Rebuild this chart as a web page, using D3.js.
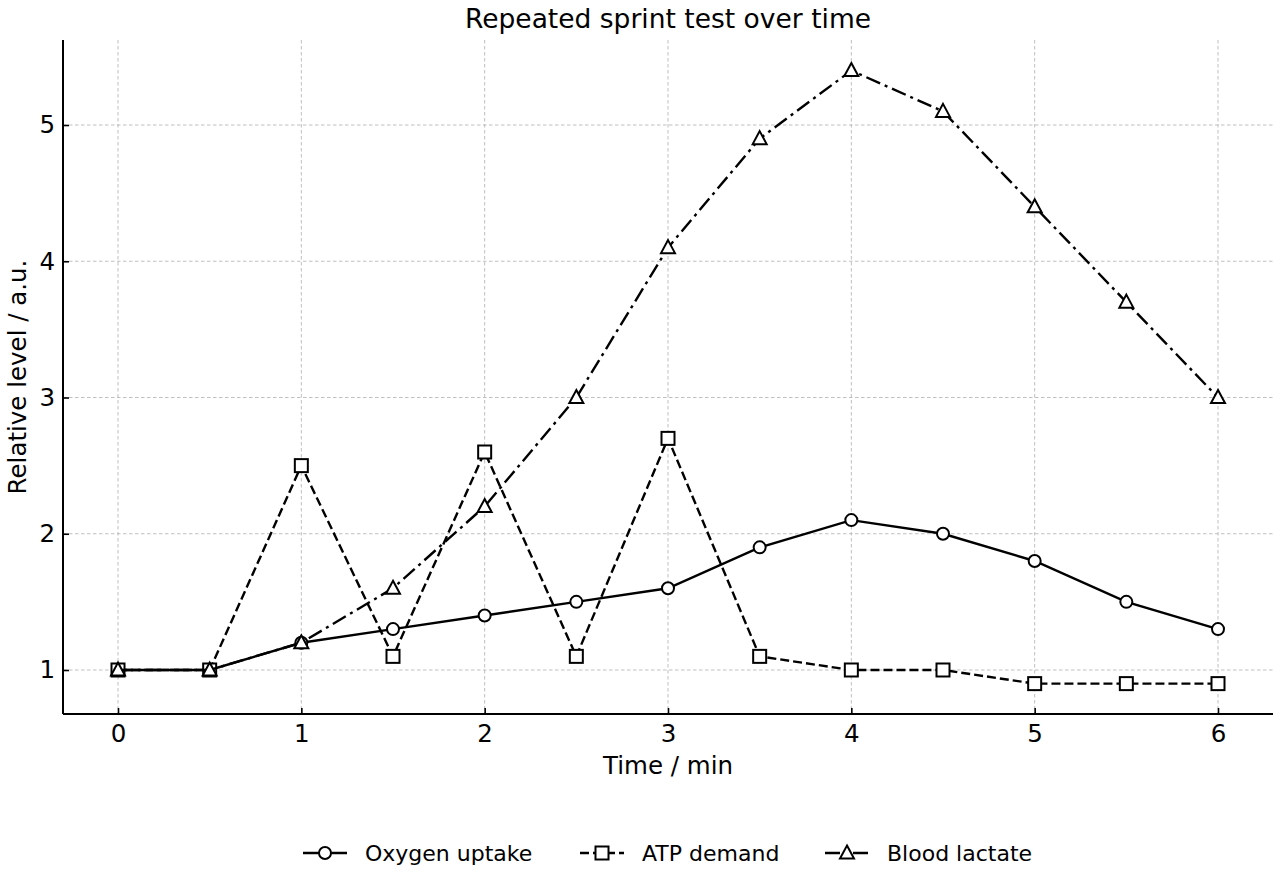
<!DOCTYPE html>
<html>
<head>
<meta charset="utf-8">
<script src="https://cdn.jsdelivr.net/npm/d3@7"></script>
<style>
  html, body { margin: 0; padding: 0; background: #fff; overflow: hidden; }
  svg { display: block; font-family: "DejaVu Sans", sans-serif; }
</style>
</head>
<body>
<svg width="1280" height="880"></svg>
<script>
const times = [0, 0.5, 1, 1.5, 2, 2.5, 3, 3.5, 4, 4.5, 5, 5.5, 6]
const oxygen = [1.0, 1.0, 1.2, 1.3, 1.4, 1.5, 1.6, 1.9, 2.1, 2.0, 1.8, 1.5, 1.3]
const atp = [1.0, 1.0, 2.5, 1.1, 2.6, 1.1, 2.7, 1.1, 1.0, 1.0, 0.9, 0.9, 0.9]
const lactate = [1.0, 1.0, 1.2, 1.6, 2.2, 3.0, 4.1, 4.9, 5.4, 5.1, 4.4, 3.7, 3.0]
const xTicks = [0, 1, 2, 3, 4, 5, 6]
const yTicks = [1, 2, 3, 4, 5]

const series = [
  { name: 'Oxygen uptake', values: oxygen, dash: null, marker: 'circle' },
  { name: 'ATP demand', values: atp, dash: '9,4', marker: 'square' },
  { name: 'Blood lactate', values: lactate, dash: '15,5,3,5', marker: 'triangle' }
]

const width = 1280, height = 880
const margin = { top: 40, right: 7, bottom: 166, left: 63 }
const innerWidth = width - margin.left - margin.right
const innerHeight = height - margin.top - margin.bottom
const tickFont = 24.5

const svg = d3.select('svg')
const g = svg.append('g').attr('transform', `translate(${margin.left},${margin.top})`)

const xScale = d3.scaleLinear().domain([-0.3, 6.3]).range([0, innerWidth])
const yScale = d3.scaleLinear().domain([0.677, 5.624]).range([innerHeight, 0])

// grid
g.append('g').selectAll('line').data(xTicks).enter().append('line')
  .attr('x1', d => xScale(d)).attr('x2', d => xScale(d))
  .attr('y1', 0).attr('y2', innerHeight)
  .attr('stroke', '#b8b8b8').attr('stroke-width', 0.9).attr('stroke-dasharray', '3.5,2.5')
g.append('g').selectAll('line').data(yTicks).enter().append('line')
  .attr('y1', d => yScale(d)).attr('y2', d => yScale(d))
  .attr('x1', 0).attr('x2', innerWidth)
  .attr('stroke', '#b8b8b8').attr('stroke-width', 0.9).attr('stroke-dasharray', '3.5,2.5')

// axes (ticks pointing inward)
const xAxis = d3.axisBottom(xScale).tickValues(xTicks).tickSize(-6).tickPadding(11).tickFormat(d3.format('d'))
const yAxis = d3.axisLeft(yScale).tickValues(yTicks).tickSize(-6).tickPadding(8).tickFormat(d3.format('d'))

const xAxisG = g.append('g').attr('transform', `translate(0,${innerHeight})`).call(xAxis)
const yAxisG = g.append('g').call(yAxis)
;[xAxisG, yAxisG].forEach(a => {
  a.attr('font-size', tickFont).attr('font-family', '"DejaVu Sans", sans-serif').attr('fill', '#000')
  a.selectAll('.domain').remove()
  a.selectAll('.tick line').attr('stroke', '#000').attr('stroke-width', 1.6)
  a.selectAll('.tick text').attr('fill', '#000')
})

// spines
g.append('line').attr('x1', 0).attr('x2', innerWidth).attr('y1', innerHeight).attr('y2', innerHeight)
  .attr('stroke', '#000').attr('stroke-width', 2)
g.append('line').attr('x1', 0).attr('x2', 0).attr('y1', 0).attr('y2', innerHeight)
  .attr('stroke', '#000').attr('stroke-width', 2)

// labels
g.append('text').text('Time / min')
  .attr('x', innerWidth / 2).attr('y', innerHeight + 60)
  .attr('text-anchor', 'middle').attr('font-size', 24.5)
g.append('text').text('Relative level / a.u.')
  .attr('transform', `translate(-37,${innerHeight / 2}) rotate(-90)`)
  .attr('text-anchor', 'middle').attr('font-size', 24.5)
svg.append('text').text('Repeated sprint test over time')
  .attr('x', margin.left + innerWidth / 2).attr('y', 28)
  .attr('text-anchor', 'middle').attr('font-size', 26.5)

function drawMarker(sel, type) {
  if (type === 'circle') {
    sel.append('circle').attr('r', 6)
  } else if (type === 'square') {
    sel.append('rect').attr('x', -6.5).attr('y', -6.5).attr('width', 13).attr('height', 13)
  } else {
    sel.append('path').attr('d', 'M0,-7.5 L7,5.5 L-7,5.5 Z')
  }
  sel.selectAll('*').attr('fill', '#fff').attr('stroke', '#000').attr('stroke-width', 2)
}

const line = d3.line().x((d, i) => xScale(times[i])).y(d => yScale(d))

series.forEach(s => {
  g.append('path').datum(s.values)
    .attr('d', line)
    .attr('fill', 'none').attr('stroke', '#000').attr('stroke-width', 2.4)
    .attr('stroke-dasharray', s.dash)
  g.append('g').selectAll('g').data(s.values).enter().append('g')
    .attr('transform', (d, i) => `translate(${xScale(times[i])},${yScale(d)})`)
    .each(function() { drawMarker(d3.select(this), s.marker) })
})

// legend
const legendX = [303, 580, 825]
const legendY = 853
series.forEach((s, i) => {
  const lg = svg.append('g').attr('transform', `translate(${legendX[i]},${legendY})`)
  lg.append('line').attr('x1', 0).attr('x2', 44).attr('y1', 0).attr('y2', 0)
    .attr('stroke', '#000').attr('stroke-width', 2.4).attr('stroke-dasharray', s.dash)
  const m = lg.append('g').attr('transform', 'translate(22,0)')
  drawMarker(m, s.marker)
  lg.append('text').text(s.name).attr('x', 62).attr('y', 8).attr('font-size', 22)
})
</script>
</body>
</html>
